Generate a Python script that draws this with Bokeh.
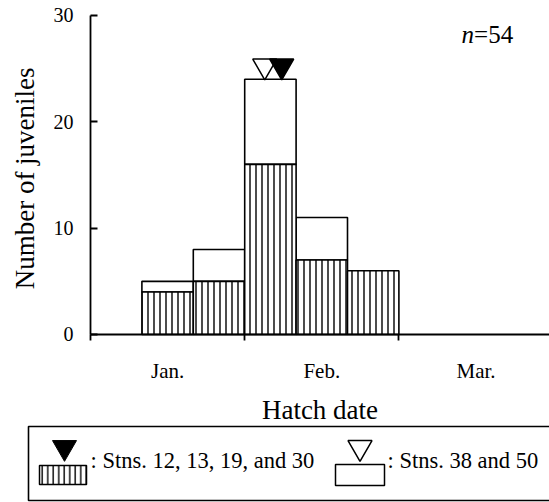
from bokeh.plotting import figure
from bokeh.models import Range1d, FixedTicker, ColumnDataSource
from bokeh.core.properties import value
from bokeh.embed import file_html
from bokeh.resources import INLINE

# ---- data (x in 10-day bins from 1 Jan) ----
bin_left = [1, 2, 3, 4, 5]
stns_a = [4, 5, 16, 7, 6]          # Stns. 12, 13, 19 and 30 (hatched)
stns_b = [1, 3, 8, 4, 0]           # Stns. 38 and 50 (open, stacked)
month_centers = [1.5, 4.5, 7.5]
month_bounds = [0, 3, 6]
month_labels = ["Jan.", "Feb.", "Mar."]
y_ticks = [0, 10, 20, 30]
mean_a = [3.72]                    # filled triangle (mean hatch date)
mean_b = [3.39]                    # open triangle
marker_y = [25.25]
n_total = 54

FONT = "Liberation Serif"
W, H = 549, 502
X0, X1 = -1.751, 8.93
Y0, Y1 = -15.8, 31.41

p = figure(width=W, height=H, output_backend="svg", toolbar_location=None,
           x_range=Range1d(X0, X1), y_range=Range1d(Y0, Y1),
           min_border_left=0, min_border_top=0, min_border_right=0, min_border_bottom=0)
p.extra_x_ranges = {"lx": Range1d(0, W)}
p.extra_y_ranges = {"ly": Range1d(0, H)}
p.outline_line_color = None
p.grid.visible = False
p.background_fill_color = "white"

x_mid = [b + 0.5 for b in bin_left]
tot = [a + b for a, b in zip(stns_a, stns_b)]
src = ColumnDataSource(dict(x=x_mid, a=stns_a, tot=tot, zero=[0] * len(x_mid)))

# open part (stacked on top)
p.vbar(x="x", bottom="a", top="tot", width=1.0, source=src,
       fill_color="white", line_color="black", line_width=1.6)
# hatched part
p.vbar(x="x", bottom="zero", top="a", width=1.0, source=src,
       fill_color="white", line_color="black", line_width=1.6,
       hatch_pattern="vertical_line", hatch_color="black", hatch_scale=6, hatch_weight=1.4)

# mean hatch date markers
p.scatter(x=mean_b, y=marker_y, marker="inverted_triangle", size=24,
          fill_color="white", line_color="black", line_width=1.5)
p.scatter(x=mean_a, y=marker_y, marker="inverted_triangle", size=24,
          fill_color="black", line_color="black", line_width=1.5)

# n=54
p.text(x=[7.22], y=[28.2], text=["n"], text_font=value(FONT), text_font_size="25px",
       text_font_style="italic", text_baseline="middle", text_align="left")
p.text(x=[7.22], y=[28.2], text=["=%d" % n_total], x_offset=12.5, text_font=value(FONT),
       text_font_size="25px", text_baseline="middle", text_align="left")

# y axis (fixed at x = 0)
ya = p.yaxis[0]
ya.fixed_location = 0
ya.bounds = (0, 30)
ya.ticker = FixedTicker(ticks=y_ticks)
ya.axis_label = "Number of  juveniles"
ya.axis_label_text_font = FONT
ya.axis_label_text_font_size = "27px"
ya.axis_label_text_font_style = "normal"
ya.axis_label_text_color = "black"
ya.axis_label_standoff = 11
ya.major_label_text_font = FONT
ya.major_label_text_font_size = "20px"
ya.major_label_text_color = "black"
ya.major_label_standoff = 17
ya.major_tick_in = 7
ya.major_tick_out = 0
ya.minor_tick_line_color = None
ya.axis_line_color = "black"
ya.axis_line_width = 1.8
ya.major_tick_line_color = "black"
ya.major_tick_line_width = 1.8

# x axis (fixed at y = 0)
xa = p.xaxis[0]
xa.fixed_location = 0
xa.bounds = (0, X1)
xa.ticker = FixedTicker(ticks=month_centers, minor_ticks=month_bounds)
xa.major_label_overrides = {c: l for c, l in zip(month_centers, month_labels)}
xa.major_tick_line_color = None
xa.major_tick_in = 0
xa.major_tick_out = 0
xa.minor_tick_in = 0
xa.minor_tick_out = 6
xa.minor_tick_line_color = "black"
xa.minor_tick_line_width = 1.8
xa.axis_line_color = "black"
xa.axis_line_width = 1.8
xa.major_label_text_font = FONT
xa.major_label_text_font_size = "21px"
xa.major_label_text_color = "black"
xa.major_label_standoff = 19
xa.axis_label = "Hatch date"
xa.axis_label_text_font = FONT
xa.axis_label_text_font_size = "27px"
xa.axis_label_text_font_style = "normal"
xa.axis_label_text_color = "black"
xa.axis_label_standoff = 8

# ---- legend (pixel-like extra ranges: lx = page x, ly = 502 - page y) ----
kw = dict(x_range_name="lx", y_range_name="ly")
p.quad(left=[28], right=[570], bottom=[2], top=[76], fill_color=None,
       line_color="black", line_width=1.6, **kw)
p.quad(left=[39], right=[86], bottom=[18], top=[37], fill_color="white",
       line_color="black", line_width=1.5,
       hatch_pattern="vertical_line", hatch_color="black", hatch_scale=5.5, hatch_weight=1.4, **kw)
p.quad(left=[335], right=[384], bottom=[17], top=[38], fill_color="white",
       line_color="black", line_width=1.5, **kw)
p.scatter(x=[64], y=[55], marker="inverted_triangle", size=24,
          fill_color="black", line_color="black", **kw)
p.scatter(x=[359.5], y=[55], marker="inverted_triangle", size=24,
          fill_color="white", line_color="black", line_width=1.5, **kw)
p.text(x=[90, 387], y=[42, 42],
       text=[": Stns. 12, 13, 19, and  30", ": Stns. 38 and 50"],
       text_font=value(FONT), text_font_size="22.5px", text_baseline="middle",
       text_align="left", text_color="black", **kw)

open("out.html", "w").write(file_html(p, INLINE))
